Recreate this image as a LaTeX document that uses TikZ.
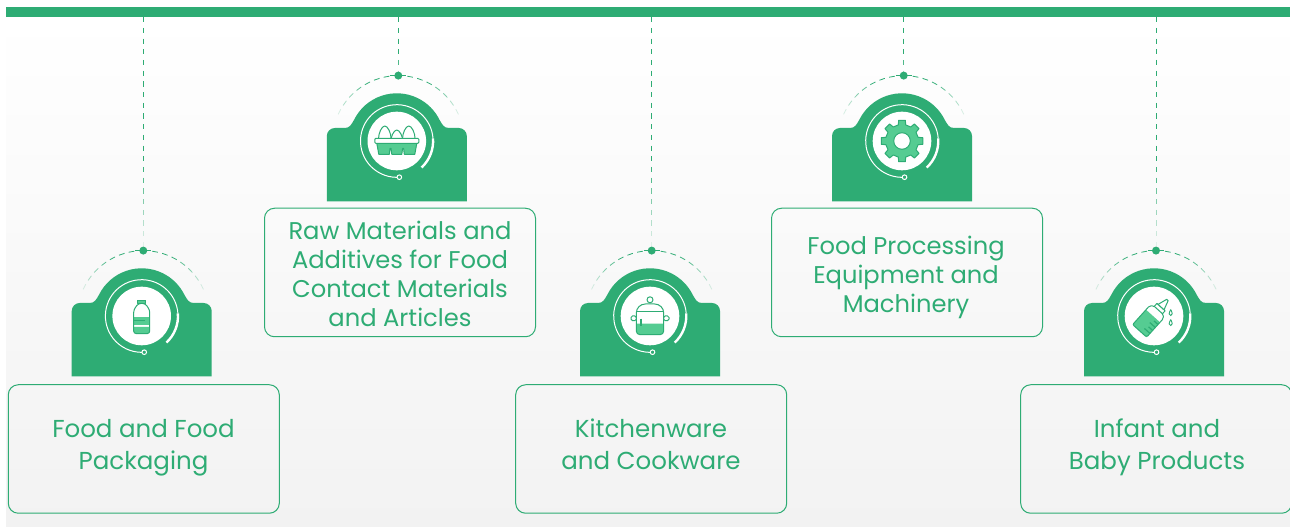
\documentclass[tikz,border=0pt]{standalone}
\usepackage{fontspec}
\setmainfont{Poppins}
\usetikzlibrary{calc}
\definecolor{brand}{HTML}{2EAC74}
\definecolor{brandlight}{HTML}{55CC92}
\definecolor{bggrey}{HTML}{F2F2F2}
\tikzset{
  panel/.style={draw=brand,line width=1pt,rounded corners=10pt,minimum width=271pt,minimum height=128.5pt,inner sep=0pt},
  paneltext/.style={inner sep=0pt,align=center,text=brand,font=\fontsize{24.5}{32}\selectfont},
  panelwide/.style={paneltext,font=\fontsize{24.2}{29}\selectfont},
  topbar/.style={fill=brand,minimum width=1284pt,minimum height=10pt,inner sep=0pt},
  hub/.style={circle,fill=brand,minimum size=8pt,inner sep=0pt},
  iconline/.style={draw=brand,line width=1pt,line join=round},
  iconfill/.style={fill=brandlight},
}
\begin{document}
\begin{tikzpicture}[x=1pt,y=1pt]
    \useasboundingbox (0,0) rectangle (1290,527);
    \shade[top color=white,bottom color=bggrey] (6,0) rectangle (1290,510);
    \node[topbar] (bar) at (648,515) {};
    % text panels
    \node[panel] (panelA) at (143.8,78) {};
    \node[panel] (panelB) at (400,254.5) {};
    \node[panel] (panelC) at (651.2,78) {};
    \node[panel] (panelD) at (907,254.5) {};
    \node[panel] (panelE) at (1156.2,78) {};
    \node[paneltext] (textA) at (143.5,79) {Food and Food\\Packaging};
    \node[panelwide] (textB) at (400,253.5) {Raw Materials and\\Additives for Food\\Contact Materials\\and Articles};
    \node[paneltext] (textC) at (651,83) {Kitchenware\\and Cookware};
    \node[panelwide] (textD) at (906,250) {Food Processing\\Equipment and\\Machinery};
    \node[paneltext] (textE) at (1157,80) {Infant and\\Baby Products};
    % badges
    \foreach \n/\x/\y/\dx/\N in {A/141.7/211/143.3/21,B/396.8/386/398.3/5,C/650/211/651.7/21,D/902/386/903.7/5,E/1154/211/1156/21} {
      \coordinate (ring\n) at (\x,\y);
      \ifx\n C
        \fill[brand,shift={(ring\n)}] (-70,-60.5) -- (-70,-5) arc[start angle=180,end angle=90,radius=18]
          -- (-46,13) arc[start angle=164,end angle=16,radius=47.7] -- (52,13)
          arc[start angle=90,end angle=0,radius=18] -- (70,-60.5) -- cycle;
      \else
        \fill[brand,shift={(ring\n)}] (-70,-60.5) -- (-70,5) arc[start angle=180,end angle=90,radius=8]
          -- (-52,13) .. controls (-47,13) and (-45.5,16.5) .. (154:47.7)
          arc[start angle=154,end angle=26,radius=47.7]
          .. controls (45.5,16.5) and (47,13) .. (52,13) -- (62,13)
          arc[start angle=90,end angle=0,radius=8] -- (70,-60.5) -- cycle;
      \fi
      \fill[white] (ring\n) circle (29.3);
      \draw[white,line width=1pt,shift={(ring\n)}] (4:36.3) arc[start angle=4,end angle=274,radius=36.3];
      \draw[white,line width=2.4pt,shift={(ring\n)}] (4:36.3) arc[start angle=4,end angle=-47,radius=36.3];
      \draw[white,fill=brand,line width=1pt,shift={(ring\n)}] (274:36.3) circle (2.3);
      \node[hub] (dot\n) at (\dx,\y+65.4) {};
      % dashed arc round the badge
      \draw[brand,line width=1pt] ($(dot\n)+(-8,0)$) -- ($(dot\n)+(8,0)$);
      \foreach \k in {1,...,7} {
        \pgfmathsetmacro\op{min(1,1.3*(1-(\k-1)/7))}
        \coordinate (arcmid) at ($(dot\n)+(0,-66)$);
        \draw[brand,line width=.8pt,opacity=\op,shift={(arcmid)}] (90+\k*8.8-1:66) arc[start angle=90+\k*8.8-1,end angle=90+\k*8.8+4,radius=66];
        \draw[brand,line width=.8pt,opacity=\op,shift={(arcmid)}] (90-\k*8.8+1:66) arc[start angle=90-\k*8.8+1,end angle=90-\k*8.8-4,radius=66];
      }
      % hanging line
      \foreach \k in {0,...,\N} {
        \pgfmathsetmacro\op{min(1,2.5*(1-\k/(\N+1)))}
        \draw[brand,line width=1pt,opacity=\op] ($(bar.south -| dot\n)+(0,-\k*10.7)$) -- ($(bar.south -| dot\n)+(0,-\k*10.7-5.2)$);
      }
    }
    % bottle
    \begin{scope}[shift={(ringA)}]
      \fill[iconfill] (-8,-1) rectangle (8,-9);
      \fill[iconfill] (-8,-11) -- (8,-11) -- (8,-15) arc[start angle=0,end angle=-90,radius=2.6] -- (-5.4,-17.6) arc[start angle=270,end angle=180,radius=2.6] -- cycle;
      \draw[iconline,fill=brandlight] (-4,12.5) rectangle (4,15.5);
      \draw[iconline,rounded corners=2.5pt] (-3.5,12.5) -- (-8,6) -- (-8,-17.6) -- (8,-17.6) -- (8,6) -- (3.5,12.5) -- cycle;
      \draw[iconline] (-8,-5) -- (3,-5);
    \end{scope}
    % egg tray
    \begin{scope}[shift={(ringB)}]
      \foreach \ex/\ey in {-12/-1,12/-1,0/-5} {
        \draw[iconline,fill=white] (\ex-6.3,\ey+3) .. controls (\ex-6.3,\ey+9) and (\ex-3,\ey+16) .. (\ex,\ey+16)
          .. controls (\ex+3,\ey+16) and (\ex+6.3,\ey+9) .. (\ex+6.3,\ey+3) -- cycle;
      }
      \draw[iconline,iconfill] (-20,-2.3) -- (-18,-13.3) -- (-7.5,-13.3) -- (-6.8,-7.5) -- (-5.8,-7.5) -- (-5,-13.3) -- (5,-13.3)
        -- (5.8,-7.5) -- (6.8,-7.5) -- (7.5,-13.3) -- (18,-13.3) -- (20,-2.3) -- cycle;
      \draw[iconline,fill=white,rounded corners=1pt] (-22,-2.3) rectangle (22,2.7);
    \end{scope}
    % pot
    \begin{scope}[shift={(ringC)}]
      \fill[iconfill] (-13.7,-7.7) -- (13.7,-7.7) -- (13.7,-15) arc[start angle=0,end angle=-90,radius=3.7] -- (-10,-18.7) arc[start angle=270,end angle=180,radius=3.7] -- cycle;
      \draw[iconline,rounded corners=1.5pt] (-13.7,0) rectangle (-19,-4.7);
      \draw[iconline,rounded corners=1.5pt] (13.7,0) rectangle (19,-4.7);
      \draw[iconline,fill=white] (0,16.2) circle (3);
      \draw[iconline] (-13.7,-15) -- (-13.7,3) arc[start angle=180,end angle=90,radius=9] -- (4.7,12) arc[start angle=90,end angle=0,radius=9]
        -- (13.7,-15) arc[start angle=0,end angle=-90,radius=3.7] -- (-10,-18.7) arc[start angle=270,end angle=180,radius=3.7] -- cycle;
      \draw[iconline] (-13.7,4) -- (13.7,4);
      \draw[brand,line width=1.4pt] (-9,-2.7) -- (-9,-10.3);
    \end{scope}
    % gear
    \begin{scope}[shift={(ringD)}]
      \draw[iconline,iconfill] (-13:16.5) \foreach \a in {0,45,...,315} { -- (\a-13:16.5) -- (\a-9:21) -- (\a+9:21) -- (\a+13:16.5) } -- cycle;
      \draw[iconline,fill=white] (0,0) circle (8.3);
    \end{scope}
    % baby bottle
    \begin{scope}[shift={(ringE)}]
      \begin{scope}[xshift=-1pt,rotate=48]
        \fill[iconfill] (0,-9.4) rectangle (-20,9.4);
        \draw[iconline,rounded corners=1.5pt] (-20,-9.4) -- (5,-9.4) -- (8,-6.5) -- (8,6.5) -- (5,9.4) -- (-20,9.4) -- cycle;
        \draw[iconline] (8,-5.5) -- (12,-5.5) -- (12,5.5) -- (8,5.5);
        \draw[iconline,fill=white] (12,-4) -- (21.5,-1) -- (21.5,1) -- (12,4) -- cycle;
        \foreach \u/\v in {-15/-2,-11/-4,-7/-2,-3/-4} {
          \draw[brand,line width=1.2pt] (\u,-9.4) -- (\u,\v);
        }
      \end{scope}
      \foreach \dy in {3,-7} {
        \draw[brand,line width=.9pt] (16.7,\dy+3.5) .. controls (18.5,\dy) and (19,\dy-2.5) .. (16.7,\dy-2.5) .. controls (14.4,\dy-2.5) and (14.9,\dy) .. (16.7,\dy+3.5);
      }
    \end{scope}
\end{tikzpicture}
\end{document}
